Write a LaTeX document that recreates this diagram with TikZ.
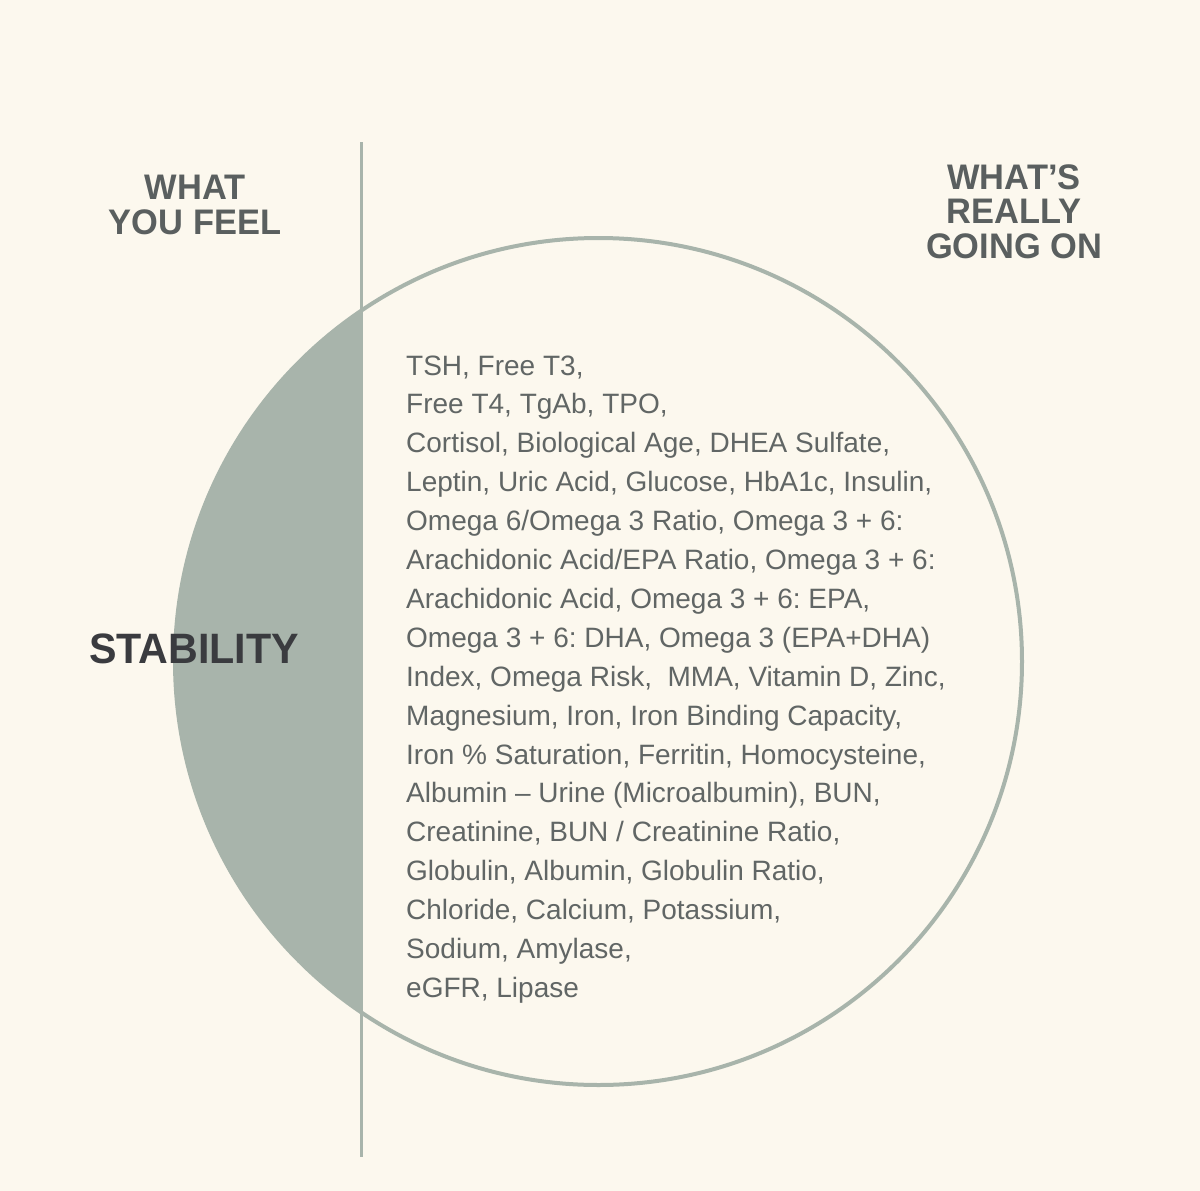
\documentclass[tikz,border=0pt]{standalone}
\usepackage{fontspec}
\setmainfont{Liberation Sans}
\newfontfamily\listfont{Liberation Sans}
\newfontfamily\headfont[FakeStretch=0.97]{Liberation Sans}
\definecolor{bg}{HTML}{FCF8EE}
\definecolor{sage}{HTML}{A8B4AB}
\definecolor{headc}{HTML}{5A5F5F}
\definecolor{darkc}{HTML}{3A3B3F}
\definecolor{listc}{HTML}{616665}
\tikzset{
  heading/.style={font=\headfont\bfseries\fontsize{35.5}{34.5}\selectfont, text=headc, align=center, inner sep=0pt},
  listline/.style={font=\listfont\fontsize{28}{39}\selectfont, text=listc, anchor=base west, inner sep=0pt},
}
\begin{document}
\frenchspacing
\begin{tikzpicture}[x=1pt,y=-1pt]
\fill[bg] (0,0) rectangle (1200,1191);
\useasboundingbox (0,0) rectangle (1200,1191);
\coordinate (c) at (598.5,661.5);
\begin{scope}
\clip (0,0) rectangle (361,1191);
\fill[sage] (c) circle[radius=423.5pt];
\end{scope}
\draw[sage, line width=4pt] (c) circle[radius=423.5pt];
\coordinate (top) at (361,142);
\coordinate (bot) at (361,1157);
\draw[sage, line width=3pt] (top) -- (bot);
\node[heading, anchor=base] (feel) at (195,234) {WHAT\\YOU FEEL};
\node[heading, anchor=base] (going) at (1014,258) {WHAT’S\\REALLY\\GOING ON};
\node[font=\headfont\bfseries\fontsize{42.5}{42}\selectfont, text=darkc, anchor=base, inner sep=0pt] (stab) at (194,663) {STABILITY};
\foreach \t [count=\i] in {
{TSH, Free T3,},
{Free T4, TgAb, TPO,},
{Cortisol, Biological Age, DHEA Sulfate,},
{Leptin, Uric Acid, Glucose, HbA1c, Insulin,},
{Omega 6/Omega 3 Ratio, Omega 3 + 6:},
{Arachidonic Acid/EPA Ratio, Omega 3 + 6:},
{Arachidonic Acid, Omega 3 + 6: EPA,},
{Omega 3 + 6: DHA, Omega 3 (EPA+DHA)},
{Index, Omega Risk,\ \ MMA, Vitamin D, Zinc,},
{Magnesium, Iron, Iron Binding Capacity,},
{Iron \% Saturation, Ferritin, Homocysteine,},
{Albumin – Urine (Microalbumin), BUN,},
{Creatinine, BUN / Creatinine Ratio,},
{Globulin, Albumin, Globulin Ratio,},
{Chloride, Calcium, Potassium,},
{Sodium, Amylase,},
{eGFR, Lipase}}
{\node[listline] (l\i) at (406,{375+(\i-1)*38.9}) {\t};}
\end{tikzpicture}
\end{document}
